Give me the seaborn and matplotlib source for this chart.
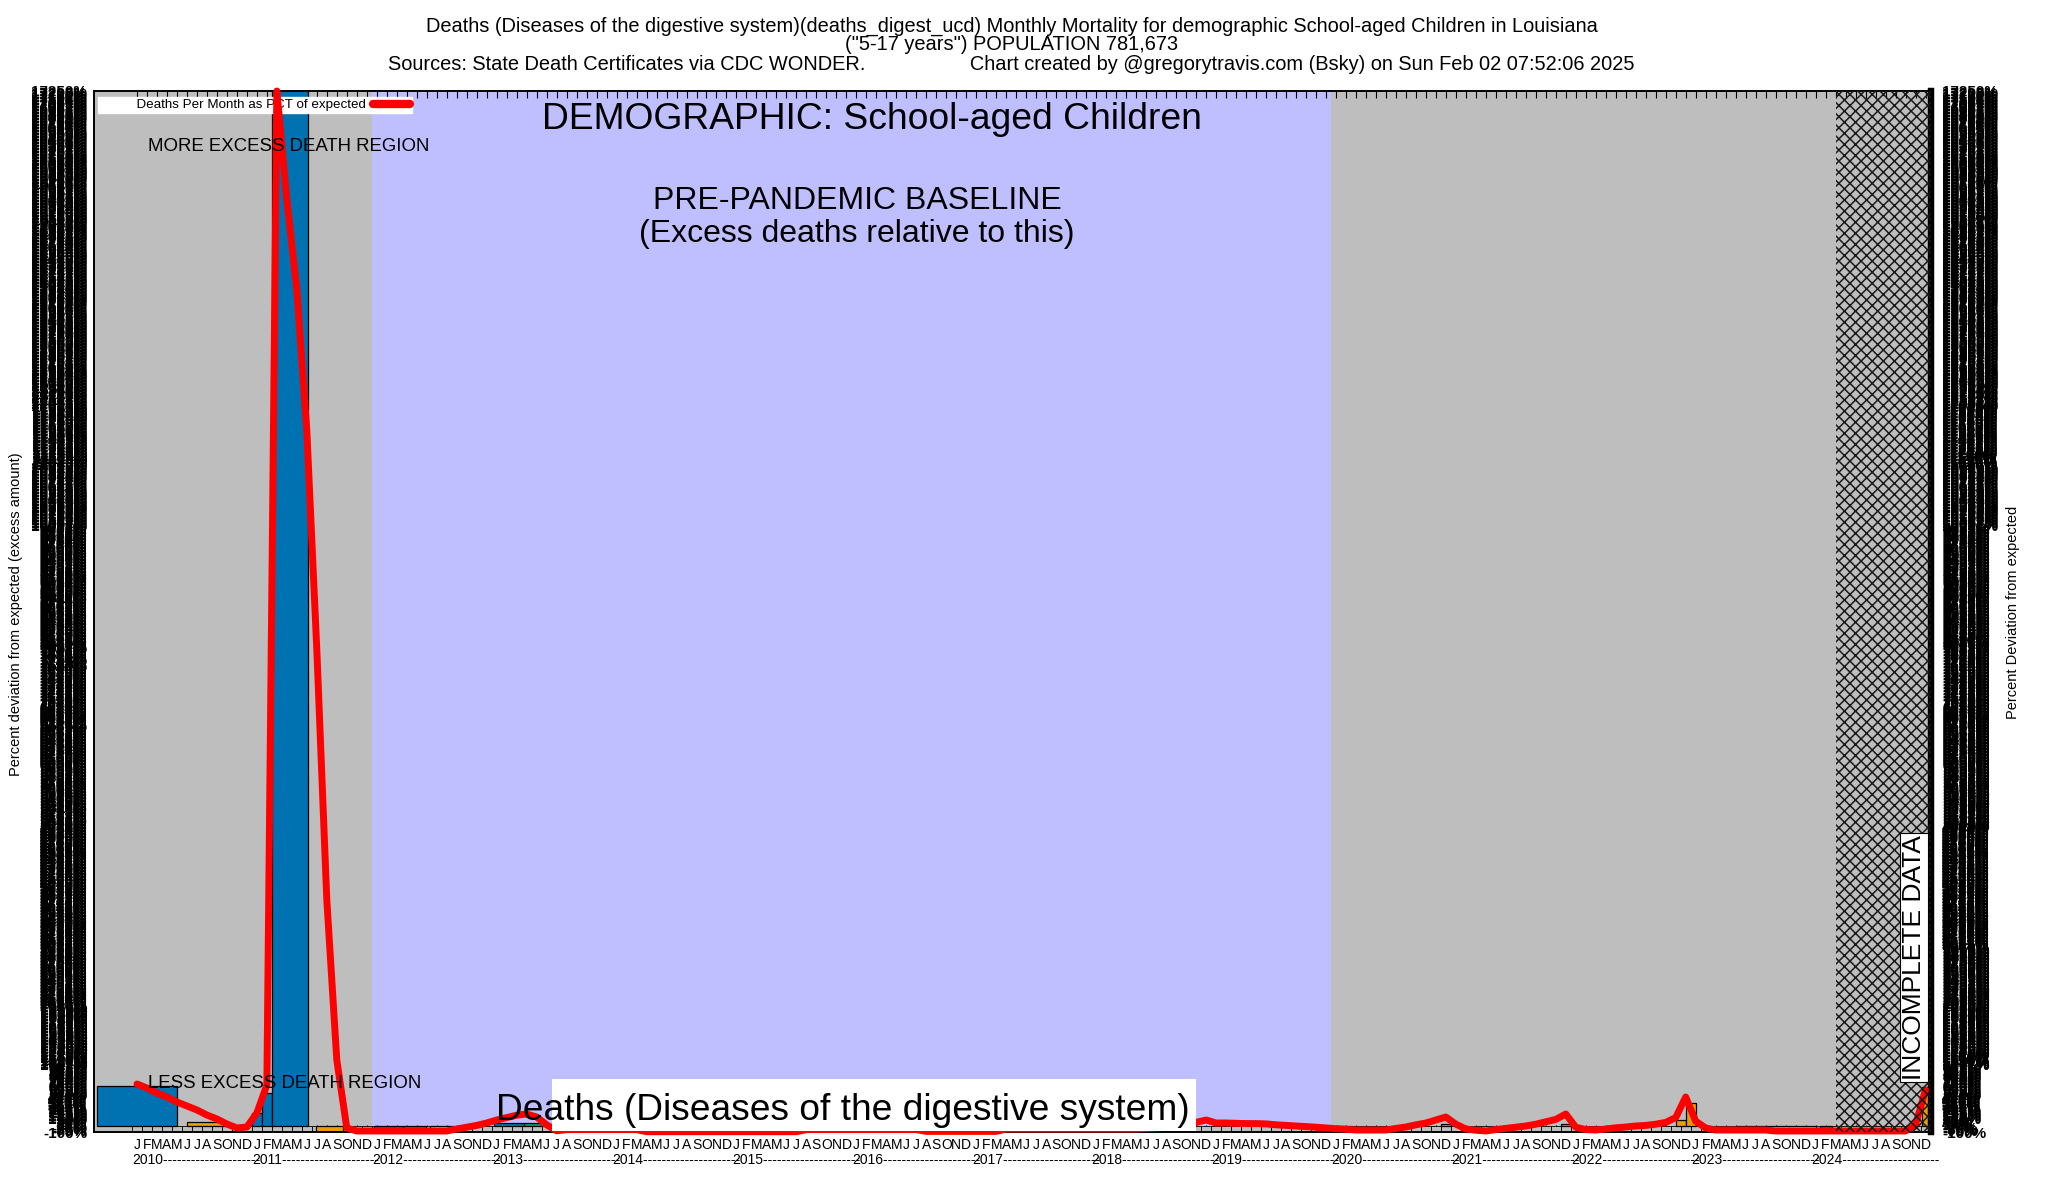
import numpy as np
import matplotlib
matplotlib.use("Agg")
import matplotlib.pyplot as plt
from matplotlib.lines import Line2D
from matplotlib.patches import Rectangle
import seaborn as sns

# ---- data -------------------------------------------------------------
years = list(range(2010, 2025))
month_letters = ["J", "F", "M", "A", "M", "J", "J", "A", "S", "O", "N", "D"]
months = np.arange(len(years) * 12)

# deaths per month as pct of expected (red line), one value per month 2010-2024
line_pct = [
    700, 633, 550, 483, 400, 333, 267, 183, 117, 33, -33, -17,          # 2010
    217, 683, 17250, 15436, 13936, 11586, 7935, 3767, 1100, -33, -83, -83,  # 2011
    -83, -83, -83, -83, -83, -83, -83, -83, -50, -20, 10, 50,           # 2012
    100, 140, 180, 200, 150, 20, -80, -60, -60, -60, -60, -60,          # 2013
    -60, -60, -60, -95, -95, -95, -95, -95, -95, -95, -95, -95,         # 2014
    -95, -95, -95, -95, -95, -95, -95, -60, -60, -60, -60, -60,         # 2015
    -60, -60, -60, -60, -60, -60, -60, -90, -90, -90, -90, -90,         # 2016
    -90, -90, -90, -50, -50, -50, -50, -50, -50, -50, -50, -50,         # 2017
    -50, -50, -50, -50, -50, -40, -30, -20, -10, 0, 60, 100,            # 2018
    50, 50, 45, 40, 40, 35, 20, 10, 0, -10, -20, -33,                   # 2019
    -45, -55, -67, -67, -67, -67, -40, -17, 20, 50, 100, 150,           # 2020
    30, -50, -70, -83, -60, -40, -20, 0, 30, 70, 110, 200,              # 2021
    -20, -60, -67, -50, -30, -17, 0, 10, 30, 60, 140, 483,              # 2022
    80, -33, -67, -67, -67, -67, -67, -67, -83, -83, -83, -83,          # 2023
    -83, -83, -83, -83, -83, -83, -83, -83, -83, -83, 20, 600,          # 2024
]

# excess-amount bars (gnuplot boxes, variable widths, in months)
bar_center = [0, 7, 12, 13, 15.3, 19.3, 25.2, 27.8, 30.5, 37.2, 39.7,
              118.5, 120.8, 131, 143, 154.5, 155.5, 161, 165, 169, 179]
bar_width = [8, 4, 1, 1, 3.6, 2.7, 2.9, 2.3, 2.4, 3, 2,
             1, 1.6, 1, 1, 1, 1, 2, 6, 1.2, 0.8]
bar_value = [667, 67, 217, 550, 20000, -100, -100, -100, -100, 50, 50,
             -100, -100, 30, 40, 100, 383, -100, -100, -100, 650]
bar_kind = ["blue", "orange", "blue", "blue", "blue", "orange", "blue", "green",
            "yellow", "blue", "green", "orange", "blue", "orange", "orange",
            "orange", "orange", "green", "yellow", "blue", "orange"]
base_value = -100  # small gray box under every month

# shaded regions along the time axis
region_edges = [-4.3, 23.5, 119.5, 170.0, 179.55]
region_kind = ["gray", "baseline", "gray", "incomplete"]

YMIN, YMAX = -100, 17250

# ---- style ------------------------------------------------------------
kind_colors = {"blue": "#0072b2", "orange": "#e69f00", "green": "#009e73",
               "yellow": "#f0e442"}
region_colors = {"gray": "#bebebe", "baseline": "#bfbfff", "incomplete": "#bebebe"}

sns.set_style("white")
plt.rcParams["font.family"] = ["Liberation Sans", "DejaVu Sans"]
plt.rcParams["hatch.linewidth"] = 1.1
for key in ("text.color", "xtick.color", "ytick.color", "axes.labelcolor"):
    plt.rcParams[key] = "black"

fig = plt.figure(figsize=(20.48, 12), dpi=100)
ax = fig.add_axes([94 / 2048, 1 - 1132 / 1200, 1837 / 2048, 1041 / 1200])
ax2 = ax.twinx()

ax.set_xlim(region_edges[0], region_edges[-1])
ax.set_ylim(YMIN, YMAX)
ax2.set_ylim(YMIN, YMAX)

for i, kind in enumerate(region_kind):
    ax.axvspan(region_edges[i], region_edges[i + 1], color=region_colors[kind],
               lw=0, zorder=0)

# gray base boxes
ax.bar(months, np.full(len(months), base_value), width=1, bottom=0,
       color="#bebebe", edgecolor="black", linewidth=0.6, zorder=1)
# coloured excess bars
ax.bar(bar_center, bar_value, width=bar_width, bottom=0,
       color=[kind_colors[k] for k in bar_kind], edgecolor="black",
       linewidth=0.9, zorder=2)

# x ticks: month letters, year row below
ax.set_xticks(months)
ax.set_xticklabels([month_letters[m % 12] for m in months])
ax.tick_params(axis="x", direction="in", top=True, bottom=True, length=5,
               width=0.8, labelsize=10, pad=4)
for i, yr in enumerate(years):
    ax.text(i * 12 - 0.45, -0.027, f"{yr}" + "-" * 21, transform=ax.get_xaxis_transform(),
            ha="left", va="center", fontsize=10, clip_on=False)

# y tick blobs (gnuplot overplotted labels)
tick_pos = np.linspace(YMIN, YMAX, 700)
tick_lab = [f"{v:.0f}%" for v in tick_pos]
ax.set_yticks(tick_pos)
ax.set_yticklabels(tick_lab, fontweight="bold")
ax.tick_params(axis="y", length=0, pad=5, labelsize=11)
ax2.set_yticks(tick_pos)
ax2.set_yticklabels(tick_lab, fontweight="bold")
ax2.tick_params(axis="y", length=0, pad=8, labelsize=11)

for a in (ax, ax2):
    for s in ("left", "top", "bottom"):
        a.spines[s].set_linewidth(1.2)
        a.spines[s].set_color("black")
    a.spines["right"].set_linewidth(4.5)
    a.spines["right"].set_color("black")

# legend
ax.legend(handles=[Line2D([], [], color="red", lw=6)],
          labels=["          Deaths Per Month as PCT of expected"],
          loc="upper left", bbox_to_anchor=(0.002, 0.994), markerfirst=False,
          fontsize=9.6, frameon=True, fancybox=False, framealpha=1,
          edgecolor="white", borderpad=0.12, handlelength=2.8,
          handletextpad=0.5, borderaxespad=0)

# red line
sns.lineplot(x=months, y=line_pct, ax=ax2, color="red", linewidth=5, zorder=3)
ax2.lines[-1].set_clip_on(False)
ax2.set_xlabel("")
ax2.set_ylabel("")

# incomplete data hatch on top
ax2.axvspan(region_edges[3], region_edges[4], facecolor="none", edgecolor="#1a1a1a",
            hatch="xxx", lw=0, zorder=4)

# annotations
ax2.text(0.4235, 0.973, "DEMOGRAPHIC: School-aged Children", transform=ax2.transAxes,
         ha="center", va="center", fontsize=26.8, zorder=6)
ax2.text(0.0294, 0.947, "MORE EXCESS DEATH REGION", transform=ax2.transAxes,
         ha="left", va="center", fontsize=13.4, zorder=6)
ax2.text(0.0294, 0.047, "LESS EXCESS DEATH REGION", transform=ax2.transAxes,
         ha="left", va="center", fontsize=13.4, zorder=6)
ax2.text(0.4153, 0.894, "PRE-PANDEMIC BASELINE", transform=ax2.transAxes,
         ha="center", va="center", fontsize=23, zorder=6)
ax2.text(0.4153, 0.8625, "(Excess deaths relative to this)", transform=ax2.transAxes,
         ha="center", va="center", fontsize=23, zorder=6)
ax2.add_patch(Rectangle((0.2493, 0.001), 0.3506, 0.0499, transform=ax2.transAxes,
                        facecolor="white", edgecolor="none", zorder=5))
ax2.text(0.2188, 0.021, "Deaths (Diseases of the digestive system)",
         transform=ax2.transAxes, ha="left", va="center", fontsize=26.7, zorder=6)
ax2.text(0.9907, 0.168, "INCOMPLETE DATA", transform=ax2.transAxes, rotation=90,
         ha="center", va="center", fontsize=19, zorder=7,
         bbox=dict(facecolor="white", edgecolor="black", linewidth=0.8, pad=1.5))

# titles and axis labels
fig.text(0.494, 1 - 26 / 1200,
         "Deaths (Diseases of the digestive system)(deaths_digest_ucd) Monthly Mortality "
         "for demographic School-aged Children in Louisiana",
         ha="center", va="center", fontsize=14.4)
fig.text(0.494, 1 - 45 / 1200, '("5-17 years") POPULATION 781,673',
         ha="center", va="center", fontsize=14.4)
fig.text(0.494, 1 - 65 / 1200,
         "Sources: State Death Certificates via CDC WONDER." + " " * 19 +
         "Chart created by @gregorytravis.com (Bsky) on Sun Feb 02 07:52:06 2025",
         ha="center", va="center", fontsize=14.4)
fig.text(16 / 2048, 1 - 614 / 1200, "Percent deviation from expected (excess amount)",
         rotation=90, ha="center", va="center", fontsize=10.5)
fig.text(2013 / 2048, 1 - 612 / 1200, "Percent Deviation from expected",
         rotation=90, ha="center", va="center", fontsize=10.5)

fig.savefig("out.png", dpi=100)
